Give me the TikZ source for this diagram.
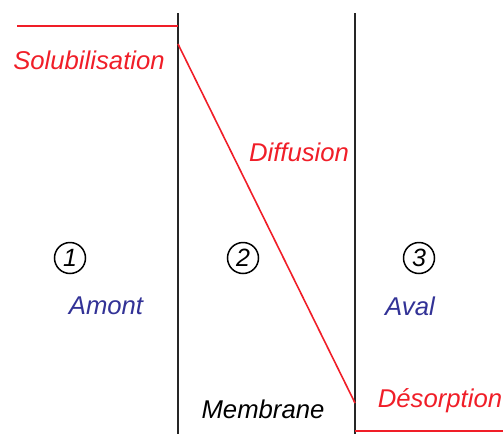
\documentclass[tikz,border=0pt]{standalone}
\usepackage{fontspec}
\setmainfont{Liberation Sans}
\usepackage{tikz}

\definecolor{labelred}{RGB}{240,30,40}
\definecolor{labelblue}{RGB}{50,50,150}

\begin{document}
\begin{tikzpicture}[x=1pt, y=-1pt,
    wall/.style={line width=2pt, black!85},
    profile/.style={line width=1.6pt, labelred},
    lbl/.style={font=\fontsize{25.7}{30}\selectfont\itshape, inner sep=0pt},
    zone/.style={circle, draw, line width=1.5pt, minimum size=31pt, inner sep=0pt,
                 font=\fontsize{25}{28}\selectfont\itshape}]
    \useasboundingbox (0,0) rectangle (503,434);

    \coordinate (wallAtop) at (178,13);
    \coordinate (wallAbot) at (178,434);
    \coordinate (wallBtop) at (355,13);
    \coordinate (wallBbot) at (355,434);
    \draw[wall] (wallAtop) -- (wallAbot);
    \draw[wall] (wallBtop) -- (wallBbot);

    \coordinate (upL) at (17,26);
    \coordinate (upR) at (178,26);
    \coordinate (diffTop) at (178,44);
    \coordinate (diffBot) at (355,403);
    \coordinate (downL) at (355,431);
    \coordinate (downR) at (503,431);
    \draw[profile] (upL) -- (upR);
    \draw[profile] (diffTop) -- (diffBot);
    \draw[profile] (downL) -- (downR);

    \node[lbl, labelred] (solub) at (89,60) {Solubilisation};
    \node[lbl, labelred] (diff) at (299,152) {Diffusion};
    \node[lbl, labelred] (desorp) at (440,401) {Désorption};
    \node[lbl] (membr) at (263,409) {Membrane};
    \node[lbl, labelblue] (amont) at (106,306) {Amont};
    \node[lbl, labelblue] (aval) at (410,306) {Aval};

    \node[zone] (zone1) at (70,258) {1};
    \node[zone] (zone2) at (243,258) {2};
    \node[zone] (zone3) at (419,258) {3};
\end{tikzpicture}
\end{document}
